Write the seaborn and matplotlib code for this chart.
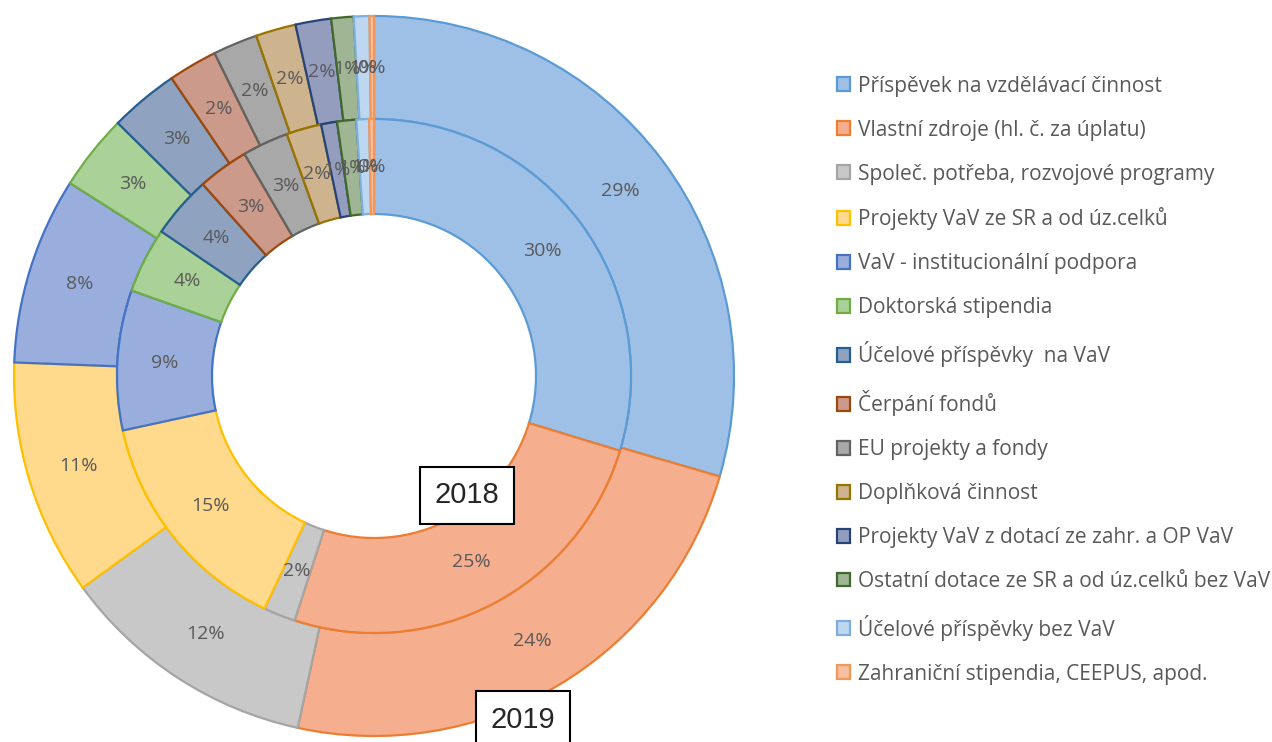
import matplotlib
matplotlib.use("Agg")
import matplotlib.pyplot as plt
import seaborn as sns

# categories (legend order = order of slices, clockwise from top)
categories = [
    "Příspěvek na vzdělávací činnost",
    "Vlastní zdroje (hl. č. za úplatu)",
    "Společ. potřeba, rozvojové programy",
    "Projekty VaV ze SR a od úz.celků",
    "VaV - institucionální podpora",
    "Doktorská stipendia",
    "Účelové příspěvky  na VaV",
    "Čerpání fondů",
    "EU projekty a fondy",
    "Doplňková činnost",
    "Projekty VaV z dotací ze zahr. a OP VaV",
    "Ostatní dotace ze SR a od úz.celků bez VaV",
    "Účelové příspěvky bez VaV",
    "Zahraniční stipendia, CEEPUS, apod.",
]

# shares in % (outer ring = 2019, inner ring = 2018)
share_2019 = [29.5, 23.9, 11.6, 10.6, 8.4, 3.4, 3.1, 2.2, 2.0, 1.8, 1.6, 1.0, 0.7, 0.2]
share_2018 = [29.7, 25.3, 2.0, 14.6, 8.8, 4.1, 3.9, 3.2, 2.9, 2.2, 1.0, 1.2, 0.8, 0.3]

fills = ["#9FC0E6", "#F5AF8E", "#C8C8C8", "#FFD98C", "#9AAEDE", "#AAD197", "#8FA3C0",
         "#CC9A8A", "#A8A8A8", "#CDB48F", "#959DBE", "#9FB594", "#BDD7F0", "#F7BFA0"]
edges = ["#5B9BD5", "#ED7D31", "#A5A5A5", "#FFC000", "#4472C4", "#70AD47", "#255E91",
         "#9E480E", "#636363", "#997300", "#264478", "#43682B", "#7CAFDD", "#F1975A"]

sns.set_theme(style="white")
plt.rcParams["font.family"] = ["Open Sans", "DejaVu Sans"]

fig = plt.figure(figsize=(12.72, 7.42), dpi=100)
# pie centre at (374, 376) px, radius 360 px
ax = fig.add_axes([14 / 1272, 6 / 742, 720 / 1272, 720 / 742])

r_out = 1.0
r_mid = 257 / 360
r_in = 162 / 360

txt = dict(color="#595959", fontsize=14)

w_out, _, _ = ax.pie(share_2019, radius=r_out, startangle=90, counterclock=False,
                     colors=fills, autopct="%.0f%%",
                     pctdistance=(r_out + r_mid) / 2 / r_out,
                     wedgeprops=dict(width=r_out - r_mid, linewidth=1.6),
                     textprops=txt)
w_in, _, _ = ax.pie(share_2018, radius=r_mid, startangle=90, counterclock=False,
                    colors=fills, autopct="%.0f%%",
                    pctdistance=(r_mid + r_in) / 2 / r_mid,
                    wedgeprops=dict(width=r_mid - r_in, linewidth=1.6),
                    textprops=txt)
for wedges in (w_out, w_in):
    for w, ec in zip(wedges, edges):
        w.set_edgecolor(ec)

ax.set_xlim(-1, 1)
ax.set_ylim(-1, 1)
ax.set_aspect("equal")
ax.axis("off")

box = dict(boxstyle="square,pad=0.5", facecolor="white", edgecolor="black", linewidth=1.5)
ax.text(0.258, -0.331, "2018", fontsize=21, ha="center", va="center", bbox=box,
        family=["Liberation Sans", "DejaVu Sans"])
ax.text(0.414, -0.955, "2019", fontsize=21, ha="center", va="center", bbox=box,
        family=["Liberation Sans", "DejaVu Sans"])

leg = fig.legend(w_out, categories, loc="upper left", bbox_to_anchor=(818 / 1272, 1 - 57 / 742),
                 frameon=False, fontsize=15, handlelength=0.65, handleheight=0.65,
                 handletextpad=0.35, labelspacing=1.1, labelcolor="#595959")

fig.savefig("out.png", dpi=100, facecolor="white")
